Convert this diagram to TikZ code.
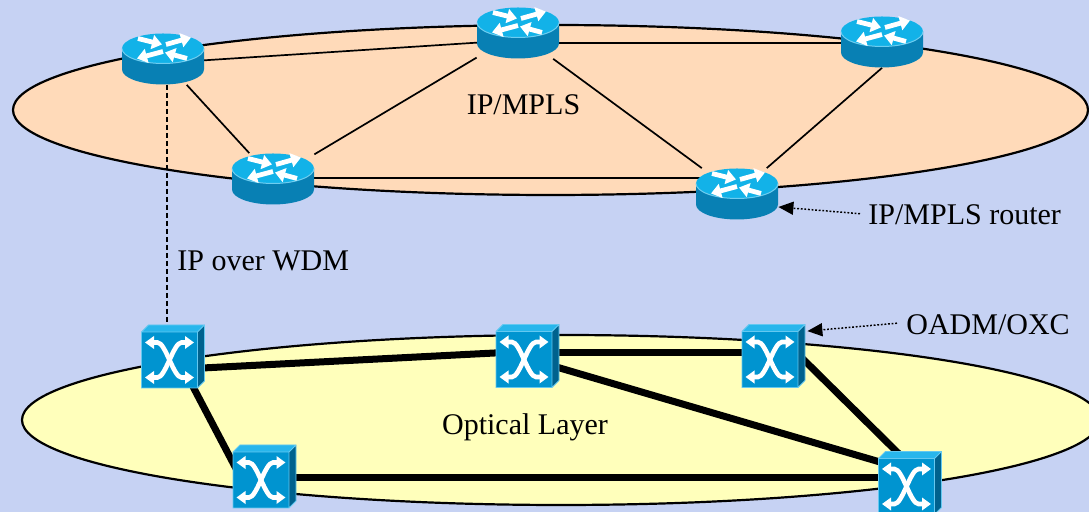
\documentclass[tikz,border=0pt]{standalone}
\usepackage{fontspec}
\setmainfont{Liberation Serif}
\usetikzlibrary{arrows.meta,calc}
\definecolor{bgblue}{RGB}{198,210,243}
\definecolor{peach}{RGB}{255,218,185}
\definecolor{paleyellow}{RGB}{255,255,187}
\definecolor{rtop}{RGB}{18,178,232}
\definecolor{rside}{RGB}{8,128,180}
\definecolor{rrim}{RGB}{110,205,240}
\definecolor{sfront}{RGB}{0,148,208}
\definecolor{stopface}{RGB}{40,182,236}
\definecolor{sside}{RGB}{0,98,142}
\definecolor{sedge}{RGB}{100,200,240}
\tikzset{
  layer/.style={draw=black, line width=1.1pt},
  iplink/.style={black, line width=0.85pt},
  oplink/.style={black, line width=3.5pt},
  ipdash/.style={black, line width=0.85pt, dash pattern=on 2.5pt off 1.5pt},
  callout/.style={black, line width=0.75pt, dash pattern=on 0.9pt off 0.9pt, -{Triangle[length=7.5pt,width=6.5pt]}},
  lbl/.style={inner sep=0pt, font=\fontsize{15}{18}\selectfont},
  rnode/.style={inner sep=0pt, minimum width=41pt, minimum height=25.5pt},
  snode/.style={inner sep=0pt, minimum width=28pt, minimum height=28pt},
  rarrow/.style={white, line width=2.4pt, -{Triangle[width=7pt,length=5pt]}},
  xarrow/.style={white, line width=2.3pt, {Triangle[width=6.2pt,length=4.5pt]}-{Triangle[width=6.2pt,length=4.5pt]}},
  router/.pic={
    \fill[rside] (-41,10.5) -- (-41,-10.5) arc[start angle=180,end angle=360,x radius=41,y radius=15] -- (41,10.5) -- cycle;
    \fill[rtop] (0,10.5) ellipse [x radius=41, y radius=15];
    \draw[rrim, line width=0.5pt] (-41,10.5) arc[start angle=180,end angle=360,x radius=41,y radius=15];
    \draw[rarrow] (-25,20.5) -- (-1,14.5);
    \draw[rarrow] (3,14.5) -- (28,21.5);
    \draw[rarrow] (0,7.5) -- (-26,0.5);
    \draw[rarrow] (24,0.5) -- (2,6.5);
  },
  switchicon/.pic={
    \fill[sside] (28,28) -- (35,35) -- (35,-21) -- (28,-28) -- cycle;
    \fill[stopface] (-28,28) -- (-21,35) -- (35,35) -- (28,28) -- cycle;
    \fill[sfront] (-28,-28) rectangle (28,28);
    \draw[sedge, line width=0.4pt] (-28,-28) rectangle (28,28)
      (-28,28) -- (-21,35) -- (35,35) -- (35,-21) -- (28,-28) (28,28) -- (35,35);
    \draw[xarrow] (-24.5,17.5) -- (-12,17.5) .. controls (-4,17.5) and (4,-17.5) .. (12,-17.5) -- (24.5,-17.5);
    \draw[xarrow] (24.5,17.5) -- (12,17.5) .. controls (4,17.5) and (-4,-17.5) .. (-12,-17.5) -- (-24.5,-17.5);
  }
}
\begin{document}
\begin{tikzpicture}[x=0.5pt,y=0.5pt]
\useasboundingbox (0,0) rectangle (1089,512);
\fill[bgblue] (0,0) rectangle (1089,512);
% layers
\draw[layer, fill=peach] (550.5,402) ellipse [x radius=537.5, y radius=85];
\draw[layer, fill=paleyellow] (561,92) ellipse [x radius=539, y radius=85];
% device anchors
\node[rnode] (r1) at (163,453) {};
\node[rnode] (r2) at (518,479) {};
\node[rnode] (r3) at (882,470) {};
\node[rnode] (r4) at (273,333) {};
\node[rnode] (r5) at (737,318) {};
\node[snode] (s1) at (169.5,152) {};
\node[snode] (s2) at (524,152.5) {};
\node[snode] (s3) at (770,152.5) {};
\node[snode] (s4) at (261,32) {};
\node[snode] (s5) at (906.5,25.5) {};
% IP/MPLS links
\draw[iplink] ($(r1)+(0,-4)$) -- ($(r2)+(0,-7)$);
\draw[iplink] ($(r2)+(0,-10)$) -- ($(r3)+(0,-1)$);
\draw[iplink] (r1) -- (r4);
\draw[iplink] (r4) -- (r2);
\draw[iplink] (r2) -- (r5);
\draw[iplink] (r3.south) -- (r5);
\draw[iplink] ($(r4)+(0,1)$) -- ($(r5)+(0,16)$);
% optical links
\draw[oplink] ($(s1)+(0,-9.7)$) -- ($(s2)+(0,8)$);
\draw[oplink] ($(s2)+(0,7)$) -- ($(s3)+(0,7)$);
\draw[oplink] ($(s2)+(0,2)$) -- ($(s5)+(0,16.7)$);
\draw[oplink] ($(s3)+(20,13.3)$) -- ($(s5)+(5.5,19.7)$);
\draw[oplink] ($(s1)+(9.5,0)$) -- ($(s4)+(-19,0)$);
\draw[oplink] ($(s4)+(0,2)$) -- ($(s5)+(0,8.5)$);
% IP over WDM
\coordinate (dtop) at ($(r1.south)+(4,0)$);
\draw[ipdash] (dtop) -- (dtop |- s1.north);
% icons
\pic at (r1) {router};
\pic at (r2) {router};
\pic at (r3) {router};
\pic at (r4) {router};
\pic at (r5) {router};
\pic at (s1) {switchicon};
\pic at (s2) {switchicon};
\pic at (s3) {switchicon};
\pic at (s4) {switchicon};
\pic at (s5) {switchicon};
% labels
\node[lbl, anchor=base] (tip) at (523.5,397) {IP/MPLS};
\node[lbl, anchor=base] (tol) at (525,77) {Optical Layer};
\node[lbl, anchor=base west] (tiw) at (177,241) {IP over WDM};
\node[lbl, anchor=base west] (trt) at (868,287) {IP/MPLS router};
\node[lbl, anchor=base west] (tox) at (906,177) {OADM/OXC};
% callouts
\draw[callout] ($(trt.west)+(-8,1.5)$) -- ($(r5.east)+(0,-13)$);
\draw[callout] ($(tox.west)+(-9,2)$) -- ($(s3.north east)+(9,0)$);
\end{tikzpicture}
\end{document}
